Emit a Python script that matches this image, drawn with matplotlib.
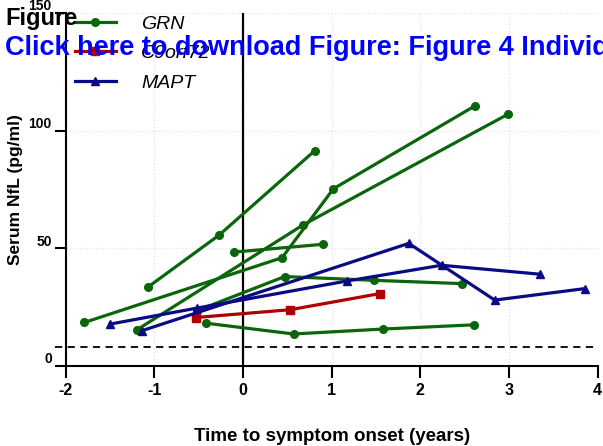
import numpy as np
import matplotlib.pyplot as plt
import matplotlib.transforms as mtransforms
from matplotlib.lines import Line2D

plt.rcParams['font.family'] = ['Liberation Sans', 'DejaVu Sans']

# individual trajectories (time to onset in years, serum NfL in pg/ml)
grn_x = [[-1.07, -0.27, 0.81],
         [-1.79, 0.44, 1.02, 2.62],
         [-1.20, 0.68, 2.99],
         [-0.10, 0.90],
         [-0.52, 0.47, 1.48, 2.47],
         [-0.42, 0.57, 1.58, 2.61]]
grn_y = [[33.6, 55.6, 91.5],
         [18.5, 46.0, 75.3, 110.6],
         [15.3, 60.0, 107.0],
         [48.4, 51.7],
         [23.5, 38.0, 36.4, 35.0],
         [18.2, 13.6, 15.7, 17.5]]

c9_x = [[-0.53, 0.53, 1.55]]
c9_y = [[20.6, 23.9, 30.8]]

mapt_x = [[-1.50, -0.52, 1.17, 2.24, 3.35],
          [-1.14, 1.87, 2.84, 3.86]]
mapt_y = [[17.8, 24.6, 36.1, 42.8, 39.0],
          [15.0, 52.1, 28.0, 32.9]]

cutoff = 8
x_ticks = [-2, -1, 0, 1, 2, 3, 4]
y_ticks = [0, 50, 100, 150]

groups = [("GRN", grn_x, grn_y, "#0b650b", "o"),
          ("C9orf72", c9_x, c9_y, "#b00000", "s"),
          ("MAPT", mapt_x, mapt_y, "#0a0a85", "^")]

fig = plt.figure(figsize=(6.03, 4.46), dpi=100)
ax = fig.add_axes([0.109, 0.1794, 0.882, 0.7915])

ax.grid(color="#e2e2f2", linestyle=":", linewidth=0.9)
ax.set_axisbelow(True)

handles = []
for name, xs, ys, col, mk in groups:
    for x, y in zip(xs, ys):
        ax.plot(x, y, color=col, lw=2.3, marker=mk, ms=5.5, zorder=3)
    handles.append(Line2D([], [], color=col, lw=2.3, marker=mk, ms=5.5))

ax.axvline(0, color="black", lw=1.6, zorder=2)
trans = mtransforms.blended_transform_factory(ax.transAxes, ax.transData)
ax.plot([-0.021, 1], [cutoff, cutoff], color="black", lw=1.3, ls=(0, (4, 3)),
        transform=trans, clip_on=False, zorder=2)

ax.set_xlim(-2, 4)
ax.set_ylim(0, 150)
ax.set_xticks(x_ticks)
ax.set_yticks(y_ticks)
ax.set_xticklabels([str(t) for t in x_ticks], fontsize=11.5, fontweight="bold")
ax.set_yticklabels([str(t) for t in y_ticks], fontsize=10, fontweight="bold")
ax.tick_params(axis="x", length=8.5, width=1.5, pad=4)
ax.tick_params(axis="y", length=8, width=1.5, pad=2)
for s in ["top", "right"]:
    ax.spines[s].set_visible(False)
for s in ["left", "bottom"]:
    ax.spines[s].set_linewidth(1.5)

# y tick labels sit a little above their ticks in the original
shift = mtransforms.ScaledTranslation(0, 0.08, fig.dpi_scale_trans)
for tick in ax.yaxis.get_major_ticks():
    tick.label1.set_transform(tick.label1.get_transform() + shift)

ax.set_xlabel("Time to symptom onset (years)", fontsize=13.5, fontweight="bold", labelpad=21)
ax.set_ylabel("Serum NfL (pg/ml)", fontsize=12.5, fontweight="bold", labelpad=4)

leg = ax.legend(handles, ["GRN", "C9orf72", "MAPT"], loc="upper left",
                bbox_to_anchor=(75 / 603, 1 - 15 / 446), bbox_transform=fig.transFigure,
                frameon=False, numpoints=1, handlelength=2.1, handletextpad=1.3,
                labelspacing=0.62, borderpad=0, borderaxespad=0,
                prop={"size": 14, "style": "italic"})

fig.text(5 / 603, 1 - 19 / 446, "Figure", fontsize=17, fontweight="bold",
         color="black", va="center", ha="left", zorder=10)
fig.text(5 / 603, 1 - 48 / 446, "Click here to download Figure: Figure 4 Individual",
         fontsize=19.5, fontweight="bold", color="#0000ff", va="center", ha="left", zorder=10)

fig.savefig("out.png", dpi=100)
